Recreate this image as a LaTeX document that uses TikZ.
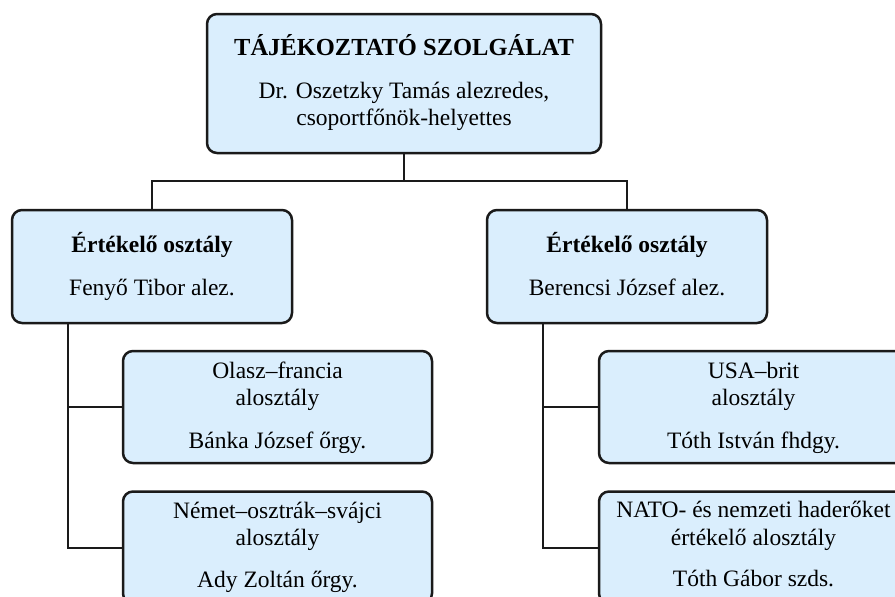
\documentclass[tikz,border=0pt]{standalone}
\usepackage{fontspec}
\setmainfont{Liberation Serif}
\definecolor{boxfill}{RGB}{218,238,253}
\definecolor{edge}{RGB}{26,26,26}
\tikzset{
  unitbox/.style={draw=edge, line width=2.5pt, fill=boxfill, rounded corners=10pt, inner sep=0pt},
  txt/.style={anchor=base, inner sep=0pt, font=\fontsize{23.5}{27}\selectfont},
  btxt/.style={txt, font=\fontsize{23.5}{27}\selectfont\bfseries},
  ttxt/.style={txt, font=\fontsize{24.5}{28}\selectfont\bfseries},
  conn/.style={draw=edge, line width=2pt}
}
\begin{document}
\begin{tikzpicture}[x=1pt, y=-1pt]
\useasboundingbox (0,0) rectangle (895,597);
\clip (0,0) rectangle (895,597);
% boxes
\node[unitbox, minimum width=394pt, minimum height=139pt] (top) at (404,83.5) {};
\node[unitbox, minimum width=280pt, minimum height=113pt] (left) at (152,266.5) {};
\node[unitbox, minimum width=280pt, minimum height=113pt] (right) at (627,266.5) {};
\node[unitbox, minimum width=309pt, minimum height=112pt] (l1) at (277.5,407) {};
\node[unitbox, minimum width=309pt, minimum height=112pt] (l2) at (277.5,547.5) {};
\node[unitbox, minimum width=309pt, minimum height=112pt] (r1) at (753.5,407) {};
\node[unitbox, minimum width=309pt, minimum height=112pt] (r2) at (753.5,547.5) {};
% texts
\node[ttxt] (t1) at (404,55) {TÁJÉKOZTATÓ SZOLGÁLAT};
\node[txt] (t2) at (404,98) {Dr. Oszetzky Tamás alezredes,};
\node[txt] (t3) at (404,125) {csoportfőnök-helyettes};
\node[btxt] (lt1) at (152,252) {Értékelő osztály};
\node[txt] (lt2) at (152,295) {Fenyő Tibor alez.};
\node[btxt] (rt1) at (627,252) {Értékelő osztály};
\node[txt] (rt2) at (627,295) {Berencsi József alez.};
\node[txt] (l1a) at (277.5,378) {Olasz–francia};
\node[txt] (l1b) at (277.5,405) {alosztály};
\node[txt] (l1c) at (277.5,448) {Bánka József őrgy.};
\node[txt] (l2a) at (277.5,518) {Német–osztrák–svájci};
\node[txt] (l2b) at (277.5,545) {alosztály};
\node[txt] (l2c) at (277.5,587) {Ady Zoltán őrgy.};
\node[txt] (r1a) at (753.5,378) {USA–brit};
\node[txt] (r1b) at (753.5,405) {alosztály};
\node[txt] (r1c) at (753.5,448) {Tóth István fhdgy.};
\node[txt] (r2a) at (753.5,517) {NATO- és nemzeti haderőket};
\node[txt] (r2b) at (753.5,545) {értékelő alosztály};
\node[txt] (r2c) at (753.5,586) {Tóth Gábor szds.};
% connectors
\coordinate (j) at (404,181);
\coordinate (lx) at (68,0);
\coordinate (rx) at (543,0);
\draw[conn] (top.south) -- (j);
\draw[conn] (left.north) -- (left.north |- j) -- (right.north |- j) -- (right.north);
\draw[conn] (lx |- left.south) -- (lx |- l2.west) -- (l2.west);
\draw[conn] (lx |- l1.west) -- (l1.west);
\draw[conn] (rx |- right.south) -- (rx |- r2.west) -- (r2.west);
\draw[conn] (rx |- r1.west) -- (r1.west);
\end{tikzpicture}
\end{document}
